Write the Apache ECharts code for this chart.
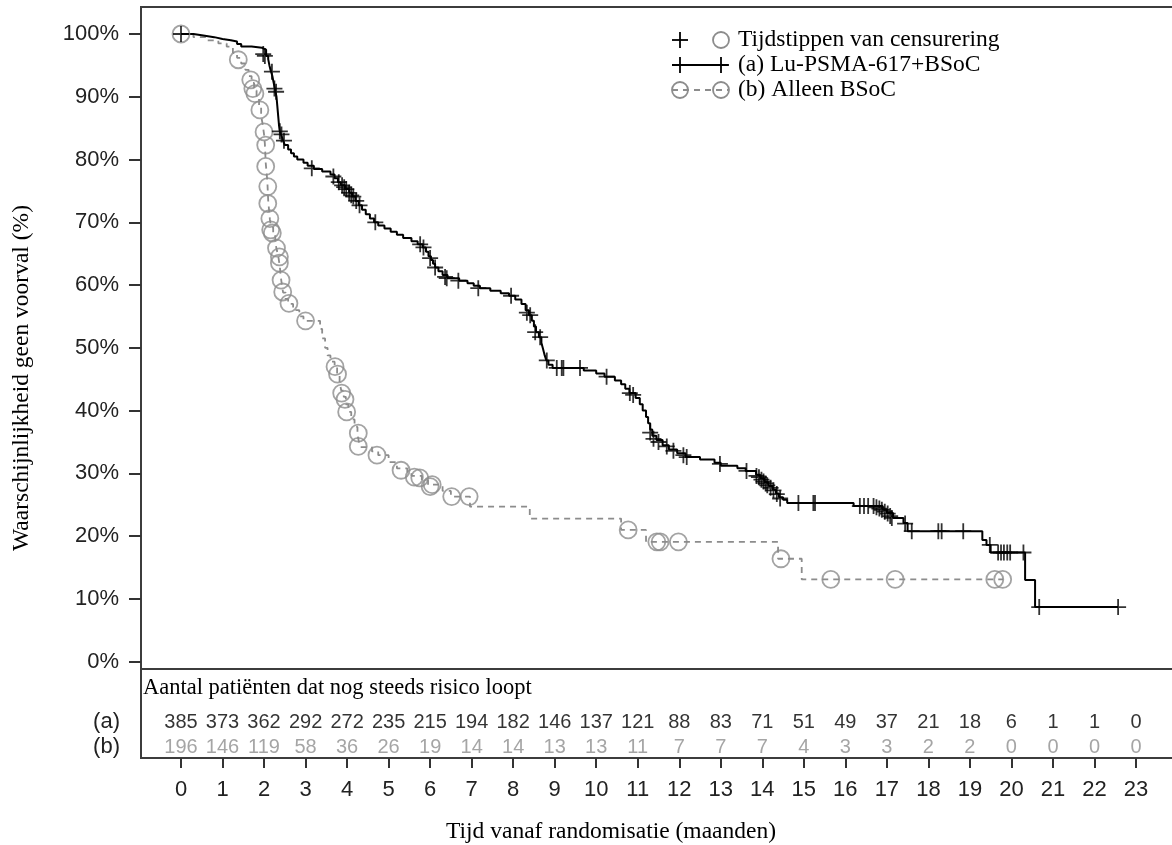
<!DOCTYPE html>
<html><head><meta charset="utf-8">
<script src="https://cdn.jsdelivr.net/npm/echarts@6/dist/echarts.min.js"></script>
<style>html,body{margin:0;padding:0;background:#fff}#c{width:1172px;height:845px}</style>
</head><body><div id="c"></div>
<script>
// ---------- data ----------
const months = [0,1,2,3,4,5,6,7,8,9,10,11,12,13,14,15,16,17,18,19,20,21,22,23];
const riskA = [385,373,362,292,272,235,215,194,182,146,137,121,88,83,71,51,49,37,21,18,6,1,1,0];
const riskB = [196,146,119,58,36,26,19,14,14,13,13,11,7,7,7,4,3,3,2,2,0,0,0,0];
const rowLabels = ['(a)','(b)'];

// Lu-PSMA-617 + BSoC: KM steps [months, % event-free]
const luCurve = [[0,100],[0.3,99.8],[0.5,99.5],[0.8,99.2],[1.0,99.0],[1.2,98.8],[1.35,98.4],[1.45,98.0],[1.7,97.8],[1.95,97.5],
 [2.05,96.5],[2.1,96.0],[2.13,95.0],[2.16,94.2],[2.2,93.3],[2.23,92.3],[2.26,91.3],[2.3,90.0],[2.32,88.5],[2.34,87.0],[2.36,85.5],
 [2.38,84.5],[2.42,83.8],[2.46,83.0],[2.5,82.3],[2.58,81.6],[2.65,81.0],[2.72,80.5],[2.8,80.0],[2.95,79.5],[3.05,79.0],[3.2,78.5],
 [3.4,78.1],[3.6,77.6],[3.7,77.0],[3.78,76.4],[3.85,75.9],[3.95,75.3],[4.05,74.7],[4.12,74.1],[4.2,73.4],[4.28,72.7],[4.36,72.0],
 [4.45,71.3],[4.55,70.6],[4.65,70.0],[4.75,69.5],[4.9,69.0],[5.05,68.5],[5.2,68.0],[5.35,67.5],[5.55,67.0],[5.7,66.5],[5.82,66.0],
 [5.9,65.3],[5.96,64.6],[6.02,64.0],[6.07,63.4],[6.12,62.8],[6.2,62.2],[6.3,61.6],[6.42,61.1],[6.7,60.7],[6.9,60.3],[7.05,59.9],
 [7.2,59.5],[7.45,59.1],[7.7,58.7],[7.9,58.3],[8.05,57.7],[8.2,57.0],[8.3,56.0],[8.38,55.2],[8.45,54.3],[8.5,53.4],[8.55,52.5],
 [8.62,51.7],[8.68,50.8],[8.72,49.8],[8.76,48.8],[8.8,48.0],[8.85,47.3],[8.95,46.8],[9.7,46.4],[10.0,45.9],[10.2,45.4],[10.45,44.8],
 [10.6,44.2],[10.7,43.5],[10.8,42.8],[10.95,42.0],[11.05,41.0],[11.12,40.0],[11.2,39.0],[11.25,38.0],[11.3,37.0],[11.35,36.0],
 [11.45,35.3],[11.6,34.5],[11.75,33.8],[11.95,33.2],[12.15,32.6],[12.5,32.2],[12.85,31.7],[13.0,31.2],[13.4,30.8],[13.6,30.4],
 [13.85,29.8],[13.95,29.2],[14.05,28.6],[14.15,28.0],[14.25,27.4],[14.33,26.8],[14.4,26.2],[14.5,25.8],[14.6,25.3],[16.2,24.8],
 [16.9,24.2],[17.0,23.7],[17.15,22.9],[17.4,22.1],[17.5,20.8],[19.3,19.4],[19.4,18.6],[19.5,17.4],[20.33,13.0],[20.57,8.7],[22.57,8.7]];
const luCensor = [[0,100],[1.98,96.8],[2.02,96.5],[2.19,94.0],[2.25,91.3],[2.29,90.8],[2.38,84.5],[2.42,84.0],[2.48,83.0],[3.15,78.6],
 [3.67,77.3],[3.8,76.4],[3.88,75.9],[3.93,75.6],[3.98,75.3],[4.05,74.7],[4.1,74.3],[4.15,74.1],[4.22,73.4],[4.3,72.7],[4.68,70.0],
 [5.76,66.5],[5.84,66.0],[6.0,64.3],[6.12,62.8],[6.36,61.3],[6.4,61.1],[6.68,60.7],[7.16,59.5],[7.95,58.3],[8.33,55.6],[8.41,55.2],
 [8.53,52.5],[8.65,51.7],[8.81,48.0],[9.05,46.8],[9.17,46.8],[9.21,46.8],[9.61,46.8],[10.25,45.4],[10.81,42.8],[10.89,42.5],
 [11.3,36.5],[11.38,35.5],[11.5,35.0],[11.7,34.3],[11.86,33.6],[12.1,32.9],[12.18,32.6],[12.98,31.5],[13.62,30.4],[13.86,29.6],
 [13.92,29.4],[13.98,29.0],[14.03,28.7],[14.08,28.4],[14.12,28.1],[14.2,27.7],[14.27,27.3],[14.35,26.7],[14.43,26.0],[14.87,25.3],
 [15.23,25.3],[15.27,25.3],[16.35,24.8],[16.45,24.8],[16.55,24.8],[16.68,24.8],[16.75,24.6],[16.82,24.4],[16.88,24.2],[16.95,23.9],
 [17.02,23.6],[17.08,23.2],[17.12,22.9],[17.44,22.0],[17.6,20.8],[18.24,20.8],[18.32,20.8],[18.84,20.8],[19.48,18.6],[19.68,17.4],
 [19.75,17.4],[19.82,17.4],[19.9,17.4],[19.97,17.4],[20.29,17.4],[20.67,8.7],[22.57,8.7]];

// BSoC alone
const bsocCurve = [[0,100],[0.3,99.5],[0.6,99.0],[0.9,98.5],[1.1,98.0],[1.25,97.0],[1.35,96.2],[1.45,95.3],[1.55,94.3],[1.63,93.3],
 [1.7,92.2],[1.76,91.0],[1.82,89.8],[1.88,88.5],[1.93,87.0],[1.97,85.5],[2.0,84.0],[2.02,82.5],[2.03,81.0],[2.04,79.5],[2.06,78.0],
 [2.08,76.5],[2.09,75.0],[2.1,73.5],[2.12,72.0],[2.14,70.5],[2.17,69.2],[2.22,68.0],[2.27,66.8],[2.31,65.5],[2.35,64.3],[2.38,63.0],
 [2.4,61.5],[2.43,60.0],[2.46,58.8],[2.52,57.8],[2.58,57.0],[2.7,56.0],[2.85,55.0],[2.95,54.3],[3.35,53.0],[3.4,51.5],[3.47,50.0],
 [3.53,48.8],[3.6,47.8],[3.7,47.0],[3.76,45.8],[3.82,44.5],[3.86,43.2],[3.92,42.2],[3.97,41.0],[4.03,39.8],[4.1,38.6],[4.18,37.4],
 [4.25,36.2],[4.28,35.2],[4.32,34.2],[4.6,33.5],[4.75,32.9],[5.0,31.8],[5.2,30.8],[5.45,30.2],[5.55,29.6],[5.8,28.9],[5.95,28.2],
 [6.3,27.2],[6.5,26.3],[6.96,24.7],[8.4,22.8],[10.6,21.0],[11.2,19.1],[14.38,16.4],[14.95,13.1],[19.8,13.1]];
const bsocCensor = [[0,100],[1.38,95.9],[1.68,92.7],[1.73,91.3],[1.78,90.5],[1.9,87.9],[2.0,84.4],[2.04,82.3],[2.04,78.9],[2.09,75.7],
 [2.09,73.0],[2.14,70.6],[2.16,68.8],[2.2,68.3],[2.3,65.9],[2.37,64.5],[2.37,63.5],[2.41,60.8],[2.45,58.9],[2.6,57.1],[3.0,54.3],
 [3.71,47.0],[3.77,45.8],[3.87,42.8],[3.95,41.8],[3.99,39.8],[4.27,36.4],[4.27,34.3],[4.72,32.9],[5.3,30.5],[5.62,29.4],[5.75,29.3],
 [6.0,27.9],[6.05,28.2],[6.52,26.3],[6.94,26.3],[10.77,21.0],[11.46,19.1],[11.54,19.1],[11.98,19.1],[14.45,16.4],[15.65,13.1],
 [17.2,13.1],[19.6,13.1],[19.79,13.1]];

const legendTexts = ['Tijdstippen van censurering','(a) Lu-PSMA-617+BSoC','(b) Alleen BSoC'];
const xTitle = 'Tijd vanaf randomisatie (maanden)';
const yTitle = 'Waarschijnlijkheid geen voorval (%)';
const tableTitle = 'Aantal patiënten dat nog steeds risico loopt';

// ---------- chart ----------
const SERIF = '"Liberation Serif","Times New Roman",serif';
const SANS = '"Liberation Sans",Arial,sans-serif';
const BLACK = '#000';
const GREY = '#8c8c8c';
const FRAME = '#3c3c3c';
const plusPath = 'path://M0,-10L0,10M-10,0L10,0';

function txt(x, y, text, font, fill, align, valign, rot) {
  return {type:'text', x:x, y:y, rotation:rot||0, silent:true,
    style:{text:text, font:font, fill:fill, align:align, verticalAlign:valign, textAlign:align, textVerticalAlign:valign}};
}
function seg(x1, y1, x2, y2, stroke, w, dash) {
  const s = {stroke:stroke, lineWidth:w};
  if (dash) s.lineDash = dash;
  return {type:'line', silent:true, shape:{x1:x1,y1:y1,x2:x2,y2:y2}, style:s};
}
function plus(cx, cy, h) {
  return [seg(cx-h, cy, cx+h, cy, BLACK, 1.8), seg(cx, cy-h, cx, cy+h, BLACK, 1.8)];
}
function ring(cx, cy) {
  return {type:'circle', silent:true, shape:{cx:cx,cy:cy,r:8}, style:{fill:'none',stroke:GREY,lineWidth:1.8}};
}

const graphics = [].concat(
  // frame of plot panel and at-risk table (right side runs off the picture)
  [seg(140, 7, 1175, 7, FRAME, 2), seg(141, 6, 141, 759, FRAME, 2),
   seg(140, 669, 1175, 669, FRAME, 2), seg(140, 758, 1175, 758, FRAME, 2)],
  [txt(611, 832, xTitle, '23.5px ' + SERIF, '#000', 'center', 'middle')],
  [txt(22, 378, yTitle, '23.5px ' + SERIF, '#000', 'center', 'middle', Math.PI/2)],
  [txt(143, 688, tableTitle, '22.5px ' + SERIF, '#000', 'left', 'middle')],
  [txt(120, 722, rowLabels[0], '22px ' + SANS, '#222', 'right', 'middle')],
  [txt(120, 747, rowLabels[1], '22px ' + SANS, '#222', 'right', 'middle')],
  // legend
  plus(680, 40, 8), [ring(721, 40)],
  [seg(672, 65, 728, 65, BLACK, 1.8)],
  plus(680, 65, 8), plus(721, 65, 8),
  [seg(672, 90, 728, 90, GREY, 1.8, [6,5])],
  [ring(680, 90), ring(721, 90)],
  [txt(738, 40, legendTexts[0], '23.5px ' + SERIF, '#000', 'left', 'middle')],
  [txt(738, 65, legendTexts[1], '23.5px ' + SERIF, '#000', 'left', 'middle')],
  [txt(738, 90, legendTexts[2], '23.5px ' + SERIF, '#000', 'left', 'middle')]
);

// pixel scale: month 0 at x=181, 41.52 px per month; data grid spans x=141..1172
const X_MIN = -40 / 41.52;
const X_MAX = 991 / 41.52;

const option = {
  animation: false,
  backgroundColor: '#fff',
  grid: [
    {left:141, top:34, width:1031, height:627.7, outerBoundsMode:'none'},
    {left:181, top:669, width:955, height:89, outerBoundsMode:'none'}
  ],
  xAxis: [
    {gridIndex:0, type:'value', min:X_MIN, max:X_MAX, show:false},
    {gridIndex:1, type:'value', min:0, max:23, interval:1, position:'bottom',
      axisLine:{show:false, onZero:false},
      axisTick:{show:true, inside:false, length:10, lineStyle:{color:'#333', width:2}},
      axisLabel:{fontSize:22, fontFamily:SANS, color:'#222', margin:21},
      splitLine:{show:false}}
  ],
  yAxis: [
    {gridIndex:0, type:'value', min:0, max:100, interval:10, position:'left',
      axisLine:{show:false, onZero:false},
      axisTick:{show:true, inside:false, length:12, lineStyle:{color:'#333', width:2}},
      axisLabel:{formatter:'{value}%', fontSize:22, fontFamily:SANS, color:'#222', margin:22},
      splitLine:{show:false}},
    {gridIndex:1, type:'value', min:0, max:89, show:false}
  ],
  series: [
    {type:'line', name:'bsoc', xAxisIndex:0, yAxisIndex:0, step:'end', data:bsocCurve, showSymbol:false, clip:false, silent:true,
      lineStyle:{color:GREY, width:1.8, type:[6,5]}, z:2},
    {type:'line', name:'lu', xAxisIndex:0, yAxisIndex:0, step:'end', data:luCurve, showSymbol:false, clip:false, silent:true,
      lineStyle:{color:BLACK, width:2}, z:3},
    {type:'scatter', xAxisIndex:0, yAxisIndex:0, data:bsocCensor, symbol:'circle', symbolSize:17, clip:false, silent:true,
      itemStyle:{color:'rgba(0,0,0,0)', borderColor:GREY, borderWidth:1.8}, z:4},
    {type:'scatter', xAxisIndex:0, yAxisIndex:0, data:luCensor, symbol:plusPath, symbolSize:16, clip:false, silent:true,
      itemStyle:{color:'rgba(0,0,0,0)', borderColor:BLACK, borderWidth:1.8}, z:5},
    {type:'scatter', xAxisIndex:1, yAxisIndex:1, silent:true, symbol:'circle', symbolSize:1,
      itemStyle:{color:'rgba(0,0,0,0)'},
      data: months.map((m,i) => [m, 36, riskA[i]]),
      label:{show:true, position:'inside', formatter:(p)=>String(p.value[2]), fontSize:20, fontFamily:SANS, color:'#000'}},
    {type:'scatter', xAxisIndex:1, yAxisIndex:1, silent:true, symbol:'circle', symbolSize:1,
      itemStyle:{color:'rgba(0,0,0,0)'},
      data: months.map((m,i) => [m, 11, riskB[i]]),
      label:{show:true, position:'inside', formatter:(p)=>String(p.value[2]), fontSize:20, fontFamily:SANS, color:'#8f8f8f'}}
  ],
  graphic: graphics
};
const chart = echarts.init(document.getElementById('c'));
chart.setOption(option);
</script></body></html>
